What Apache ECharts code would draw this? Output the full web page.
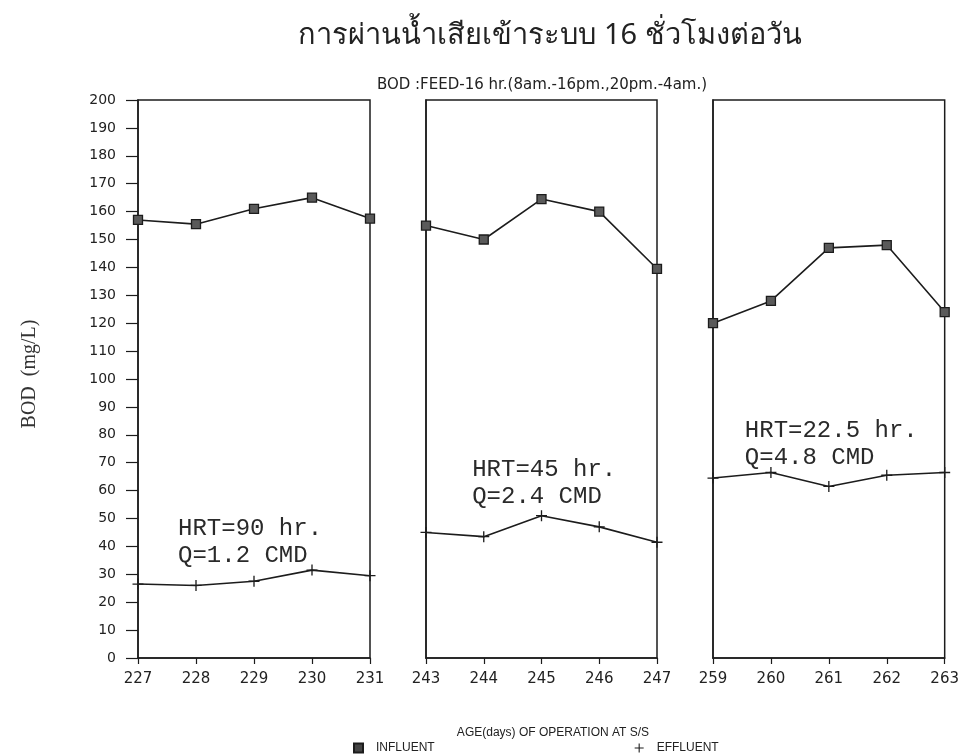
<!DOCTYPE html>
<html>
<head>
<meta charset="utf-8">
<script src="https://cdn.jsdelivr.net/npm/echarts@6/dist/echarts.min.js"></script>
<style>
  html, body { margin: 0; padding: 0; background: #fff; }
  #chart { width: 962px; height: 755px; }
</style>
</head>
<body>
<div id="chart"></div>
<script>
// Days of operation for each of the three run periods
const days1 = [227, 228, 229, 230, 231];
const days2 = [243, 244, 245, 246, 247];
const days3 = [259, 260, 261, 262, 263];

// BOD (mg/L) of influent and effluent
const influent1 = [157, 155.5, 161, 165, 157.5];
const effluent1 = [26.5, 26, 27.5, 31.5, 29.5];
const influent2 = [155, 150, 164.5, 160, 139.5];
const effluent2 = [45, 43.5, 51, 47, 41.5];
const influent3 = [120, 128, 147, 148, 124];
const effluent3 = [64.5, 66.5, 61.5, 65.5, 66.5];

// Operating condition notes: [day, BOD level, text]
const notes = [
  [227.69, 41.5, 'HRT=90 hr.\nQ=1.2 CMD'],
  [243.8, 62.5, 'HRT=45 hr.\nQ=2.4 CMD'],
  [259.55, 76.5, 'HRT=22.5 hr.\nQ=4.8 CMD']
];

const yTicks = { min: 0, max: 200, interval: 10 };

const titleText = 'การผ่านน้ำเสียเข้าระบบ 16 ชั่วโมงต่อวัน';
const subText = 'BOD :FEED-16 hr.(8am.-16pm.,20pm.-4am.)';
const xName = 'AGE(days) OF OPERATION AT S/S';
const yName = 'BOD  (mg/L)';

const ink = '#1c1c1c';
const plusPath = 'path://M4.4,0h1.2v4.4h4.4v1.2h-4.4v4.4h-1.2v-4.4h-4.4v-1.2h4.4z';

const periods = [
  { days: days1, inf: influent1, eff: effluent1, note: notes[0] },
  { days: days2, inf: influent2, eff: effluent2, note: notes[1] },
  { days: days3, inf: influent3, eff: effluent3, note: notes[2] }
];
const gridBoxes = [
  { left: 138, width: 232 },
  { left: 426, width: 231 },
  { left: 713, width: 234 }
];

const grids = [], xAxes = [], yAxes = [], series = [];
periods.forEach((p, i) => {
  grids.push({
    left: gridBoxes[i].left, width: gridBoxes[i].width, top: 100, height: 558,
    show: true, borderColor: ink, borderWidth: 1.5, backgroundColor: 'transparent'
  });
  xAxes.push({
    type: 'value', gridIndex: i,
    min: p.days[0], max: p.days[p.days.length - 1], interval: 1,
    axisLine: { show: true, lineStyle: { color: ink, width: 1.5 } },
    axisTick: { show: true, length: 6, lineStyle: { color: ink, width: 1.2 } },
    axisLabel: { color: '#222', fontSize: 15, fontFamily: 'DejaVu Sans', margin: 14, showMinLabel: true, showMaxLabel: true },
    splitLine: { show: false }
  });
  yAxes.push({
    type: 'value', gridIndex: i,
    min: yTicks.min, max: yTicks.max, interval: yTicks.interval,
    axisLine: { show: true, lineStyle: { color: ink, width: 1.5 } },
    axisTick: { show: i === 0, length: 12, lineStyle: { color: ink, width: 1.2 } },
    axisLabel: { show: i === 0, color: '#222', fontSize: 14, fontFamily: 'DejaVu Sans', margin: 22 },
    splitLine: { show: false }
  });
  series.push({
    name: 'INFLUENT', type: 'line', xAxisIndex: i, yAxisIndex: i,
    data: p.days.map((d, k) => [d, p.inf[k]]),
    symbol: 'rect', symbolSize: 9,
    lineStyle: { color: ink, width: 1.6 },
    itemStyle: { color: '#5a5a5a', borderColor: ink, borderWidth: 1.3 },
    animation: false
  });
  series.push({
    name: 'EFFLUENT', type: 'line', xAxisIndex: i, yAxisIndex: i,
    data: p.days.map((d, k) => [d, p.eff[k]]),
    symbol: plusPath, symbolSize: 11,
    lineStyle: { color: ink, width: 1.6 },
    itemStyle: { color: ink },
    markPoint: {
      symbol: 'circle', symbolSize: 0,
      data: [{ coord: [p.note[0], p.note[1]], value: p.note[2] }],
      label: {
        show: true, position: 'right', distance: 0,
        formatter: p.note[2],
        color: '#2a2a2a', fontSize: 24, lineHeight: 27,
        fontFamily: 'Liberation Mono, DejaVu Sans Mono, monospace'
      }
    },
    animation: false
  });
});

const chart = echarts.init(document.getElementById('chart'), null, { renderer: 'canvas' });
chart.setOption({
  backgroundColor: '#ffffff',
  animation: false,
  title: [
    {
      text: titleText, left: 545, top: 16, textAlign: 'center',
      textStyle: { fontSize: 29, fontWeight: 'normal', color: '#222', fontFamily: 'Noto Sans, DejaVu Sans, sans-serif' }
    },
    {
      text: subText, left: 537, top: 73, textAlign: 'center',
      textStyle: { fontSize: 15, fontWeight: 'normal', color: '#222', fontFamily: 'DejaVu Sans' }
    },
    {
      text: xName, left: 548, top: 722, textAlign: 'center',
      textStyle: { fontSize: 12, fontWeight: 'normal', color: '#222', fontFamily: 'Liberation Sans' }
    }
  ],
  graphic: [{
    type: 'text', x: 30, y: 374, rotation: Math.PI / 2,
    style: { text: yName, fontSize: 20, fill: '#333', fontFamily: 'Liberation Serif, DejaVu Serif, serif', align: 'center', verticalAlign: 'middle' }
  }],
  legend: {
    data: [
      { name: 'INFLUENT', icon: 'rect', itemStyle: { color: '#444' } },
      { name: 'EFFLUENT', icon: plusPath, itemStyle: { color: ink } }
    ],
    left: 348, top: 737, itemGap: 200, itemWidth: 9, itemHeight: 9,
    textStyle: { fontSize: 12, color: '#222', fontFamily: 'Liberation Sans', padding: [0, 0, 0, 8] }
  },
  grid: grids,
  xAxis: xAxes,
  yAxis: yAxes,
  series: series
});
</script>
</body>
</html>
